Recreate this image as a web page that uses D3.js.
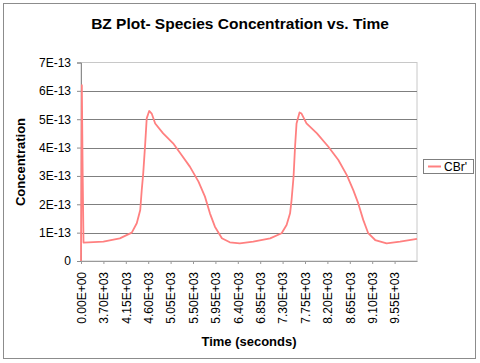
<!DOCTYPE html>
<html>
<head>
<meta charset="utf-8">
<script src="https://cdn.jsdelivr.net/npm/d3@7"></script>
<style>
  body { margin: 0; background: #fff; }
  svg { font-family: "Liberation Sans", Arial, sans-serif; }
  .title { font-size: 15.5px; font-weight: bold; }
  .label { font-size: 13px; font-weight: bold; }
  .tick text { font-size: 12px; fill: #000; }
</style>
</head>
<body>
<svg width="480" height="363"></svg>
<script>
// **** Data ****

// time in seconds (category axis, so spacing follows the categories)
var times = [0, 1100, 2200, 3300, 3700, 4030, 4270, 4370, 4440, 4470, 4500, 4540, 4570,
    4620, 4670, 4740, 4900, 5100, 5270, 5440, 5610, 5740, 5840, 5940, 6080, 6240,
    6440, 6710, 7050, 7280, 7380, 7450, 7480, 7520, 7550, 7580, 7640, 7680, 7780,
    7990, 8220, 8420, 8590, 8720, 8820, 8920, 9020, 9160, 9390, 9660, 10000];

// CBr' concentration, in units of 1E-13
var cbr = [0, 6.2, 3.1, 0.65, 0.68, 0.80, 1.00, 1.33, 1.80, 2.50, 3.09, 4.15, 5.03,
    5.29, 5.20, 4.85, 4.50, 4.15, 3.74, 3.32, 2.80, 2.27, 1.68, 1.21, 0.80, 0.66,
    0.62, 0.68, 0.80, 0.98, 1.27, 1.68, 2.15, 2.97, 4.03, 4.85, 5.24, 5.20, 4.85,
    4.50, 4.03, 3.56, 3.03, 2.50, 2.03, 1.45, 0.98, 0.74, 0.62, 0.68, 0.78];

var xTickTimes = [0, 3700, 4150, 4600, 5050, 5500, 5950, 6400, 6850, 7300, 7750,
    8200, 8650, 9100, 9550];

var yTicks = [0, 1, 2, 3, 4, 5, 6, 7];

var seriesName = "CBr'";

// **** Scales ****

var svg = d3.select('svg');

var plotLeft = 81, plotRight = 417, plotTop = 62.5, plotBottom = 261;

// category axis: time 0 is the first category, the rest follow at 50 s steps
var xScale = d3.scaleLinear()
    .domain([0, 3300, 10000])
    .range([plotLeft, plotLeft + 2.5, plotRight]);

var yScale = d3.scaleLinear()
    .domain([0, 7]).range([plotBottom, plotTop]);

function sciLabel(v) {
    if (v == 0) return '0.00E+00';
    var e = Math.floor(Math.log10(v));
    var m = v / Math.pow(10, e);
    return m.toFixed(2) + 'E+' + (e < 10 ? '0' + e : e);
}

function yLabel(v) {
    return v == 0 ? '0' : v + 'E-13';
}

// **** Chart frame ****

svg.append('rect')
    .attr('x', 3.5).attr('y', 3.5)
    .attr('width', 472).attr('height', 355)
    .attr('fill', '#fff')
    .attr('stroke', '#8c8c8c');

// plot area border (light)
svg.append('rect')
    .attr('x', plotLeft).attr('y', plotTop)
    .attr('width', plotRight - plotLeft).attr('height', plotBottom - plotTop)
    .attr('fill', 'none')
    .attr('stroke', '#c8c8c8');

// gridlines
svg.append('g')
    .selectAll('line')
    .data(yTicks.filter(function(d) { return d > 0 && d < 7; }))
    .enter()
    .append('line')
    .attr('x1', plotLeft).attr('x2', plotRight)
    .attr('y1', function(d) { return Math.round(yScale(d)) + 0.5; })
    .attr('y2', function(d) { return Math.round(yScale(d)) + 0.5; })
    .attr('stroke', '#7f7f7f');

// **** Axes ****

var yAxis = svg.append('g').attr('class', 'y axis')
    .attr('transform', 'translate(' + plotLeft + ',0)')
    .call(d3.axisLeft(yScale).tickValues(yTicks).tickFormat(yLabel)
        .tickSize(4).tickPadding(6));
yAxis.selectAll('line, path').attr('stroke', '#8c8c8c');

var xAxis = svg.append('g').attr('class', 'x axis')
    .attr('transform', 'translate(0,' + plotBottom + ')')
    .call(d3.axisBottom(xScale).tickValues(xTickTimes).tickFormat(sciLabel)
        .tickSize(3).tickSizeOuter(0));
xAxis.selectAll('line, path').attr('stroke', '#9a9a9a');
xAxis.selectAll('.tick text')
    .attr('transform', 'rotate(-90)')
    .attr('text-anchor', 'end')
    .attr('x', -11)
    .attr('y', 0)
    .attr('dy', '0.35em');

// **** Series ****

var pts = times.map(function(t, i) { return [t, cbr[i]]; });

svg.append('path')
    .datum(pts)
    .attr('fill', 'none')
    .attr('stroke', '#ff8080')
    .attr('stroke-width', 1.8)
    .attr('stroke-linejoin', 'round')
    .attr('d', d3.line()
        .x(function(d) { return xScale(d[0]); })
        .y(function(d) { return yScale(d[1]); }));

// **** Labels ****

svg.append('text')
    .attr('class', 'title')
    .attr('text-anchor', 'middle')
    .attr('transform', 'translate(240,29)')
    .text('BZ Plot- Species Concentration vs. Time');

svg.append('text')
    .attr('class', 'label')
    .attr('text-anchor', 'middle')
    .attr('transform', 'translate(249,346)')
    .text('Time (seconds)');

svg.append('text')
    .attr('class', 'label')
    .attr('text-anchor', 'middle')
    .attr('transform', 'translate(25,162) rotate(-90)')
    .text('Concentration');

// legend
var legend = svg.append('g').attr('transform', 'translate(423,159)');
legend.append('rect')
    .attr('x', 0.5).attr('y', 0.5)
    .attr('width', 50).attr('height', 14)
    .attr('fill', '#fff')
    .attr('stroke', '#7f7f7f');
legend.append('line')
    .attr('x1', 5).attr('x2', 18)
    .attr('y1', 7.5).attr('y2', 7.5)
    .attr('stroke', '#ff8080')
    .attr('stroke-width', 2);
legend.append('text')
    .attr('x', 21).attr('y', 12)
    .attr('font-size', '12px')
    .text(seriesName);
</script>
</body>
</html>
